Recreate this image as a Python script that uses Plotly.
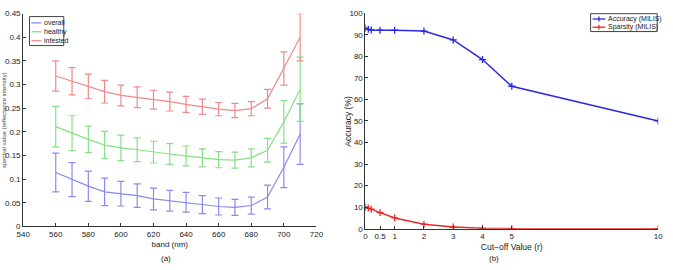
import plotly.graph_objects as go

# ---------- left panel data ----------
band = [560, 570, 580, 590, 600, 610, 620, 630, 640, 650, 660, 670, 680, 690, 700, 710]
overall = [0.114, 0.099, 0.085, 0.073, 0.069, 0.065, 0.058, 0.054, 0.051, 0.046, 0.042, 0.040, 0.044, 0.062, 0.125, 0.195]
overall_err = [0.041, 0.036, 0.032, 0.029, 0.026, 0.025, 0.023, 0.022, 0.021, 0.019, 0.018, 0.017, 0.018, 0.025, 0.043, 0.064]
healthy = [0.211, 0.197, 0.184, 0.172, 0.166, 0.162, 0.157, 0.153, 0.149, 0.145, 0.141, 0.140, 0.145, 0.161, 0.221, 0.290]
healthy_err = [0.043, 0.037, 0.028, 0.029, 0.027, 0.025, 0.023, 0.022, 0.021, 0.019, 0.017, 0.017, 0.019, 0.025, 0.045, 0.068]
infested = [0.318, 0.307, 0.296, 0.285, 0.277, 0.273, 0.268, 0.264, 0.258, 0.253, 0.248, 0.245, 0.249, 0.270, 0.334, 0.400]
infested_err = [0.032, 0.029, 0.026, 0.024, 0.022, 0.022, 0.020, 0.020, 0.017, 0.016, 0.014, 0.015, 0.015, 0.020, 0.035, 0.050]
left_xticks = [540, 560, 580, 600, 620, 640, 660, 680, 700, 720]
left_yticks = [0, 0.05, 0.1, 0.15, 0.2, 0.25, 0.3, 0.35, 0.4, 0.45]
left_yticklabels = ["0", "0.05", "0.1", "0.15", "0.2", "0.25", "0.3", "0.35", "0.4", "0.45"]
left_names = ["overall", "healthy", "infested"]

# ---------- right panel data ----------
cutoff = [0, 0.1, 0.2, 0.5, 1, 2, 3, 4, 5, 10]
accuracy = [93.0, 92.5, 92.2, 92.1, 92.1, 91.7, 87.6, 78.5, 66.1, 50.0]
sparsity = [10.0, 9.6, 9.1, 7.5, 5.0, 2.1, 0.8, 0.2, 0.05, 0.0]
right_xticks = [0, 0.5, 1, 2, 3, 4, 5, 10]
right_xticklabels = ["0", "0.5", "1", "2", "3", "4", "5", "10"]
right_yticks = list(range(0, 101, 10))
right_names = ["Accuracy (MILIS)", "Sparsity (MILIS)"]

W, H = 673, 270
FONT = "Liberation Sans, Arial, sans-serif"
left_colors = ["#8a8aee", "#86e086", "#f08a8a"]
right_colors = ["#2a2ae0", "#e82a2a"]

fig = go.Figure()

for name, vals, err, col in zip(left_names, [overall, healthy, infested],
                                [overall_err, healthy_err, infested_err], left_colors):
    fig.add_trace(go.Scatter(
        x=band, y=vals, mode="lines", name=name,
        line=dict(color=col, width=1.2),
        error_y=dict(type="data", array=err, visible=True, color=col, thickness=1.2, width=3.5),
        xaxis="x", yaxis="y", showlegend=False,
    ))

for name, vals, col in zip(right_names, [accuracy, sparsity], right_colors):
    fig.add_trace(go.Scatter(
        x=cutoff, y=vals, mode="lines+markers", name=name,
        line=dict(color=col, width=1.5),
        marker=dict(symbol="cross-thin", size=5, line=dict(color=col, width=1.3)),
        xaxis="x2", yaxis="y2", showlegend=False,
    ))

axis_common = dict(
    showline=True, linecolor="#333", linewidth=1, ticks="inside", ticklen=3,
    tickcolor="#333", showgrid=False, zeroline=False, mirror=False,
    tickfont=dict(size=8, color="#222", family=FONT),
)

fig.update_layout(
    width=W, height=H, margin=dict(l=0, r=0, t=0, b=0),
    paper_bgcolor="white", plot_bgcolor="white",
    font=dict(family=FONT, size=8, color="#222"),
    showlegend=False,
    xaxis=dict(domain=[16.5 / W, 316 / W], range=[540, 720], tickvals=left_xticks,
               anchor="y", title=dict(text="band (nm)", font=dict(size=8), standoff=3), **axis_common),
    yaxis=dict(domain=[40 / H, 260 / H], range=[0, 0.45], tickvals=left_yticks,
               ticktext=left_yticklabels, anchor="x", **axis_common),
    xaxis2=dict(domain=[366 / W, 665 / W], range=[0, 10], tickvals=right_xticks,
                ticktext=right_xticklabels, anchor="y2",
                title=dict(text="Cut\u2212off Value (r)", font=dict(size=8.5), standoff=3), **axis_common),
    yaxis2=dict(domain=[37.5 / H, 260.5 / H], range=[0, 100], tickvals=right_yticks,
                anchor="x2", **axis_common),
)

def px(x):
    return x / W

def py(y):
    return 1 - y / H

# custom compact legends (MATLAB style)
def add_legend(x0, y0, x1, y1, rows, names, colors, line_x0, line_x1, text_x, with_marker):
    fig.add_shape(type="rect", xref="paper", yref="paper",
                  x0=px(x0), y0=py(y0), x1=px(x1), y1=py(y1),
                  line=dict(color="#444", width=1), fillcolor="white", layer="above")
    for ry, name, col in zip(rows, names, colors):
        fig.add_shape(type="line", xref="paper", yref="paper",
                      x0=px(line_x0), x1=px(line_x1), y0=py(ry), y1=py(ry),
                      line=dict(color=col, width=1.3), layer="above")
        if with_marker:
            mx = (line_x0 + line_x1) / 2
            fig.add_shape(type="line", xref="paper", yref="paper",
                          x0=px(mx), x1=px(mx), y0=py(ry - 2.5), y1=py(ry + 2.5),
                          line=dict(color=col, width=1.3), layer="above")
        fig.add_annotation(text=name, xref="paper", yref="paper", x=px(text_x), y=py(ry),
                           xanchor="left", yanchor="middle", showarrow=False,
                           font=dict(size=7, family=FONT, color="#222"))

add_legend(23, 13, 58, 43, [19.5, 28.7, 38], left_names, left_colors, 25, 35, 36, False)
add_legend(596, 10, 664, 28.5, [15.5, 24], right_names, right_colors, 598, 611, 611.5, True)

fig.add_annotation(text="spectral value (reflectance intensity)", textangle=-90,
                   xref="paper", yref="paper", x=px(-3), y=py(120), xanchor="center",
                   yanchor="middle", showarrow=False, borderpad=0,
                   font=dict(size=6, family=FONT, color="#444"))
fig.add_annotation(text="Accuracy (%)", textangle=-90,
                   xref="paper", yref="paper", x=px(348), y=py(121), xanchor="center",
                   yanchor="middle", showarrow=False,
                   font=dict(size=8.5, family=FONT, color="#222"))
fig.add_annotation(text="(a)", xref="paper", yref="paper", x=px(155), y=0,
                   yanchor="bottom", showarrow=False, font=dict(size=8, family=FONT, color="#222"))
fig.add_annotation(text="(b)", xref="paper", yref="paper", x=px(505), y=0,
                   yanchor="bottom", showarrow=False, font=dict(size=8, family=FONT, color="#222"))

fig.write_html("out.html")
